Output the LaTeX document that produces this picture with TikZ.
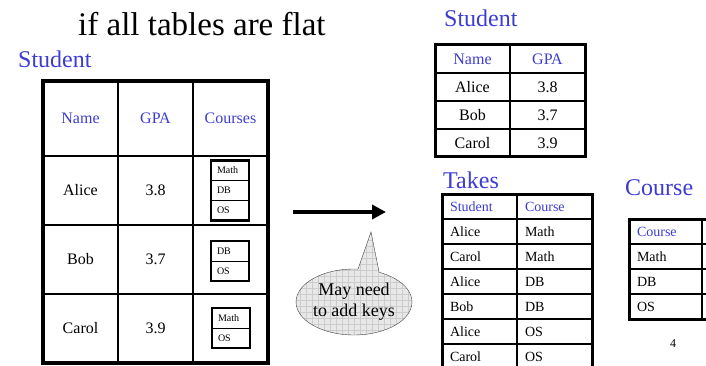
\documentclass[tikz,border=0pt]{standalone}
\usepackage{fontspec}
\setmainfont{Liberation Serif}
\usetikzlibrary{positioning,arrows.meta,shapes.geometric,patterns.meta}
\definecolor{hdrblue}{HTML}{3C3CD2}
\newcommand{\pxfont}[1]{\fontsize{#1}{#1}\selectfont}
\tikzset{
    tbl/.style={draw,outer sep=0pt,inner sep=0pt},
    bigcell/.style={tbl,line width=1.5pt,minimum width=75pt,minimum height=69pt,font=\pxfont{16}},
    subcell/.style={tbl,line width=0.8pt,minimum height=20pt,text width=26pt,inner xsep=6pt,align=left,font=\pxfont{10}},
    midcell/.style={tbl,line width=1.2pt,minimum width=75pt,minimum height=28pt,font=\pxfont{16}},
    takecell/.style={tbl,line width=1.2pt,minimum height=25pt,text width=59pt,inner xsep=8pt,align=left,font=\pxfont{14}},
    hdr/.style={text=hdrblue},
    frame/.style={line width=3.5pt},
    subframe/.style={line width=2.5pt},
    tname/.style={anchor=base west,inner sep=0pt,text=hdrblue,font=\pxfont{24}},
    flow/.style={line width=4pt,-{Triangle[length=14pt,width=14pt]}},
    bubblefill/.style={preaction={fill=gray!18},pattern={Hatch[distance=6pt,line width=0.3pt]},pattern color=gray!40},
    bubble/.style={ellipse,draw=black!75,thin,bubblefill,minimum width=110pt,minimum height=66pt,
        inner sep=0pt,align=center,font=\fontsize{18}{21}\selectfont},
}
\begin{document}
\begin{tikzpicture}[x=1pt,y=-1pt]
    \useasboundingbox (0,0) rectangle (706,366);

    \node[anchor=base west,inner sep=0pt,font=\pxfont{33}] (title) at (78,36) {if all tables are flat};

    % nested table
    \node[tname] (lblNested) at (18,68) {Student};
    \node[bigcell,hdr,minimum height=75pt] (hName) at (80.5,118.5) {Name};
    \node[bigcell,hdr,minimum height=75pt,right=0pt of hName] (hGPA) {GPA};
    \node[bigcell,hdr,minimum height=75pt,right=0pt of hGPA] (hCourses) {Courses};
    \node[bigcell,below=0pt of hName] (aName) {Alice};
    \node[bigcell,below=0pt of hGPA] (aGPA) {3.8};
    \node[bigcell,below=0pt of hCourses] (aCourses) {};
    \node[bigcell,below=0pt of aName] (bName) {Bob};
    \node[bigcell,below=0pt of aGPA] (bGPA) {3.7};
    \node[bigcell,below=0pt of aCourses] (bCourses) {};
    \node[bigcell,below=0pt of bName] (cName) {Carol};
    \node[bigcell,below=0pt of bGPA] (cGPA) {3.9};
    \node[bigcell,below=0pt of bCourses] (cCourses) {};
    \draw[frame] (hName.north west) rectangle (cCourses.south east);

    \node[subcell] (aM) at (230,170.5) {Math};
    \node[subcell,below=0pt of aM] (aD) {DB};
    \node[subcell,below=0pt of aD] (aO) {OS};
    \draw[subframe] (aM.north west) rectangle (aO.south east);
    \node[subcell] (bD) at (230,251) {DB};
    \node[subcell,below=0pt of bD] (bO) {OS};
    \draw[subframe] (bD.north west) rectangle (bO.south east);
    \node[subcell] (cM) at (231,318) {Math};
    \node[subcell,below=0pt of cM] (cO) {OS};
    \draw[subframe] (cM.north west) rectangle (cO.south east);

    % arrow and callout
    \coordinate (arrS) at (293,212);
    \coordinate (arrE) at (386,212);
    \draw[flow] (arrS) -- (arrE);
    \coordinate (tip) at (371,232);
    \node[bubble] (note) at (354,302) {May need\\to add keys};
    \path[bubblefill] (note.83) -- (tip) -- (note.50) -- ++(0,5) -| (note.83) -- cycle;
    \draw[black!75,thin] (note.83) -- (tip) -- (note.50);

    % flat Student
    \node[tname] (lblStudent) at (444,27) {Student};
    \node[midcell,hdr] (sName) at (472.5,59) {Name};
    \node[midcell,hdr,right=0pt of sName] (sGPA) {GPA};
    \node[midcell,below=0pt of sName] (sA) {Alice};
    \node[midcell,below=0pt of sGPA] (sAg) {3.8};
    \node[midcell,below=0pt of sA] (sB) {Bob};
    \node[midcell,below=0pt of sAg] (sBg) {3.7};
    \node[midcell,below=0pt of sB] (sC) {Carol};
    \node[midcell,below=0pt of sBg] (sCg) {3.9};
    \draw[frame,line width=3pt] (sName.north west) rectangle (sCg.south east);

    % Takes
    \node[tname] (lblTakes) at (443,188) {Takes};
    \node[takecell,hdr] (tS) at (479.5,206.5) {Student};
    \node[takecell,hdr,right=0pt of tS] (tC) {Course};
    \node[takecell,below=0pt of tS] (t1s) {Alice};
    \node[takecell,below=0pt of tC] (t1c) {Math};
    \node[takecell,below=0pt of t1s] (t2s) {Carol};
    \node[takecell,below=0pt of t1c] (t2c) {Math};
    \node[takecell,below=0pt of t2s] (t3s) {Alice};
    \node[takecell,below=0pt of t2c] (t3c) {DB};
    \node[takecell,below=0pt of t3s] (t4s) {Bob};
    \node[takecell,below=0pt of t3c] (t4c) {DB};
    \node[takecell,below=0pt of t4s] (t5s) {Alice};
    \node[takecell,below=0pt of t4c] (t5c) {OS};
    \node[takecell,below=0pt of t5s] (t6s) {Carol};
    \node[takecell,below=0pt of t5c] (t6c) {OS};
    \draw[frame,line width=3pt] (tS.north west) rectangle (t6c.south east);

    % Course
    \node[tname] (lblCourse) at (625,196) {Course};
    \node[takecell,hdr,text width=57pt] (kC) at (665.5,231.5) {Course};
    \node[takecell,text width=57pt,below=0pt of kC] (kM) {Math};
    \node[takecell,text width=57pt,below=0pt of kM] (kD) {DB};
    \node[takecell,text width=57pt,below=0pt of kD] (kO) {OS};
    \node[takecell,right=0pt of kC] (kCx) {};
    \node[takecell,right=0pt of kM] (kMx) {};
    \node[takecell,right=0pt of kD] (kDx) {};
    \node[takecell,right=0pt of kO] (kOx) {};
    \draw[frame,line width=3pt] (kC.north west) rectangle (kOx.south east);

    \node[font=\pxfont{12}] (pgno) at (673,344) {4};
\end{tikzpicture}
\end{document}
